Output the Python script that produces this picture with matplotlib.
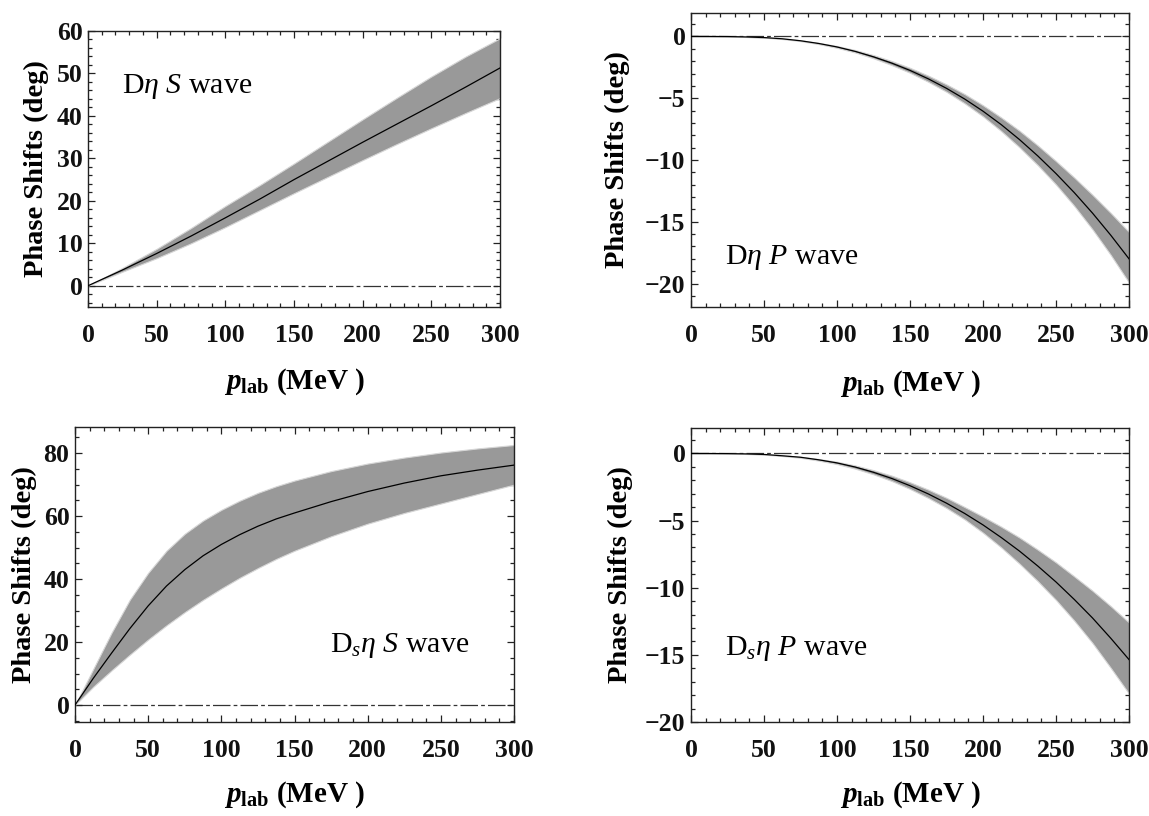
import numpy as np
import matplotlib
matplotlib.use("Agg")
import matplotlib.pyplot as plt
from matplotlib.ticker import MultipleLocator

# Fonts: Times-like serif, mathtext mapped onto the same family
plt.rcParams['font.family'] = 'Liberation Serif'
plt.rcParams['mathtext.fontset'] = 'custom'
plt.rcParams['mathtext.rm'] = 'Liberation Serif'
plt.rcParams['mathtext.it'] = 'Liberation Serif:italic'
plt.rcParams['mathtext.bf'] = 'Liberation Serif:bold'
plt.rcParams['mathtext.sf'] = 'Liberation Serif:bold:italic'  # used for bold italic p

# Data (p_lab in MeV, phase shift in deg)
# D eta, S wave
p_s_dn = [0, 25, 50, 75, 100, 125, 150, 175, 200, 225, 250, 275, 300]
c_s_dn = [0, 3.7, 7.6, 11.7, 16.0, 20.4, 25.0, 29.4, 33.8, 38.1, 42.4, 46.8, 51.3]
hi_s_dn = [0, 4.2, 8.7, 13.6, 18.8, 23.7, 28.8, 34.0, 39.2, 44.3, 49.3, 54.0, 58.3]
lo_s_dn = [0, 3.3, 6.5, 10.0, 13.8, 17.8, 21.8, 25.7, 29.6, 33.4, 37.1, 40.7, 44.2]

# D eta, P wave
p_p_dn = [0, 12.5, 25, 37.5, 50, 62.5, 75, 87.5, 100, 112.5, 125, 137.5, 150,
          162.5, 175, 187.5, 200, 212.5, 225, 237.5, 250, 262.5, 275, 287.5, 300]
c_p_dn = [0, 0, -0.01, -0.04, -0.09, -0.19, -0.35, -0.57, -0.85, -1.21, -1.65, -2.16, -2.75,
          -3.43, -4.2, -5.07, -6.05, -7.14, -8.35, -9.67, -11.1, -12.64, -14.3, -16.09, -18.0]
hi_p_dn = [0, 0, -0.01, -0.035, -0.08, -0.17, -0.31, -0.52, -0.77, -1.10, -1.51, -1.99, -2.54,
           -3.17, -3.88, -4.67, -5.57, -6.56, -7.63, -8.82, -10.09, -11.42, -12.82, -14.29, -15.83]
lo_p_dn = [0, 0, -0.01, -0.045, -0.10, -0.21, -0.38, -0.62, -0.92, -1.30, -1.77, -2.32, -2.94,
           -3.67, -4.48, -5.42, -6.47, -7.66, -8.98, -10.42, -11.99, -13.72, -15.62, -17.69, -19.93]

# Ds eta, S wave
p_s_ds = [0, 12.5, 25, 37.5, 50, 62.5, 75, 87.5, 100, 112.5, 125, 137.5, 150,
          175, 200, 225, 250, 275, 300]
c_s_ds = [0, 8.5, 16.5, 24.3, 31.5, 37.8, 43.0, 47.4, 51.0, 54.1, 56.8, 59.1, 61.0,
          64.6, 67.8, 70.5, 72.8, 74.6, 76.2]
hi_s_ds = [0, 11.5, 23.0, 33.5, 42.0, 49.0, 54.4, 58.6, 62.0, 64.9, 67.4, 69.5, 71.3,
           74.3, 76.7, 78.6, 80.2, 81.5, 82.6]
lo_s_ds = [0, 5.8, 11.0, 16.0, 20.8, 25.3, 29.5, 33.4, 37.0, 40.4, 43.5, 46.4, 49.0,
           53.6, 57.6, 61.0, 64.0, 67.0, 70.0]

# Ds eta, P wave
p_p_ds = [0, 12.5, 25, 37.5, 50, 62.5, 75, 87.5, 100, 112.5, 125, 137.5, 150,
          162.5, 175, 187.5, 200, 212.5, 225, 237.5, 250, 262.5, 275, 287.5, 300]
c_p_ds = [0, 0, -0.01, -0.03, -0.07, -0.17, -0.28, -0.47, -0.70, -1.01, -1.40, -1.86, -2.40,
          -3.01, -3.70, -4.47, -5.32, -6.26, -7.27, -8.38, -9.57, -10.87, -12.25, -13.76, -15.35]
hi_p_ds = [0, 0, -0.01, -0.025, -0.055, -0.14, -0.24, -0.41, -0.61, -0.89, -1.24, -1.65, -2.14,
           -2.69, -3.30, -3.99, -4.70, -5.45, -6.26, -7.16, -8.11, -9.15, -10.22, -11.37, -12.59]
lo_p_ds = [0, 0, -0.01, -0.035, -0.085, -0.19, -0.32, -0.53, -0.79, -1.13, -1.55, -2.05, -2.64,
           -3.31, -4.06, -4.91, -5.90, -7.00, -8.21, -9.51, -10.91, -12.45, -14.12, -15.97, -17.89]

labels = [r"D$\eta$ $S$ wave", r"D$\eta$ $P$ wave",
          r"D$_{s}\eta$ $S$ wave", r"D$_{s}\eta$ $P$ wave"]

fig = plt.figure(figsize=(11.49, 8.16), dpi=100)

panels = [
    # rect, data, ylim, major, minor, label pos, xlabel y, ylabel x
    ([0.0766, 0.6238, 0.3586, 0.3382], (p_s_dn, c_s_dn, lo_s_dn, hi_s_dn), (-5, 60), 10, 2, (0.083, 0.80), -0.272, -0.126),
    ([0.6014, 0.6238, 0.3812, 0.3603], (p_p_dn, c_p_dn, lo_p_dn, hi_p_dn), (-21.9, 1.9), 5, 1, (0.078, 0.167), -0.262, -0.167),
    ([0.0653, 0.1152, 0.3821, 0.3615], (p_s_ds, c_s_ds, lo_s_ds, hi_s_ds), (-5.4, 88.3), 20, 5, (0.58, 0.26), -0.247, -0.116),
    ([0.6014, 0.1152, 0.3812, 0.3603], (p_p_ds, c_p_ds, lo_p_ds, hi_p_ds), (-20, 1.9), 5, 1, (0.078, 0.25), -0.248, -0.162),
]

for i, (rect, (p, c, lo, hi), ylim, major, minor, tpos, xly, ylx) in enumerate(panels):
    ax = fig.add_axes(rect)
    ax.fill_between(p, lo, hi, facecolor="#999999", edgecolor="#d6d6d6", linewidth=0.8, zorder=2)
    ax.plot(p, c, color="black", linewidth=0.9, zorder=3)
    ax.axhline(0, color="#333333", linewidth=0.9, dashes=(14, 2.5, 3, 2.5), zorder=1)

    ax.set_xlim(0, 300)
    ax.set_ylim(*ylim)
    ax.xaxis.set_major_locator(MultipleLocator(50))
    ax.xaxis.set_minor_locator(MultipleLocator(10))
    ax.yaxis.set_major_locator(MultipleLocator(major))
    ax.yaxis.set_minor_locator(MultipleLocator(minor))
    ax.tick_params(which="both", direction="in", top=True, right=True, width=0.9, colors="#222222")
    ax.tick_params(which="major", length=5)
    ax.tick_params(which="minor", length=2.6)
    ax.tick_params(axis="x", pad=12, labelsize=18.5, labelcolor="#111111")
    ax.tick_params(axis="y", pad=4, labelsize=18.5, labelcolor="#111111")
    for lab in ax.get_xticklabels() + ax.get_yticklabels():
        lab.set_fontweight("bold")
    for sp in ax.spines.values():
        sp.set_linewidth(1.0)
        sp.set_color("#222222")

    ax.set_xlabel(r"$\mathsf{p}_{\mathbf{lab}}$ (MeV )", fontsize=21, fontweight="bold", va="center")
    ax.xaxis.set_label_coords(0.5, xly)
    ax.set_ylabel("Phase Shifts (deg)", fontsize=20.5, fontweight="bold", va="center")
    ax.yaxis.set_label_coords(ylx, 0.5)

    ax.text(tpos[0], tpos[1], labels[i], transform=ax.transAxes, fontsize=21.5,
            ha="left", va="center", zorder=4)

fig.savefig("out.png", dpi=100, facecolor="white")
